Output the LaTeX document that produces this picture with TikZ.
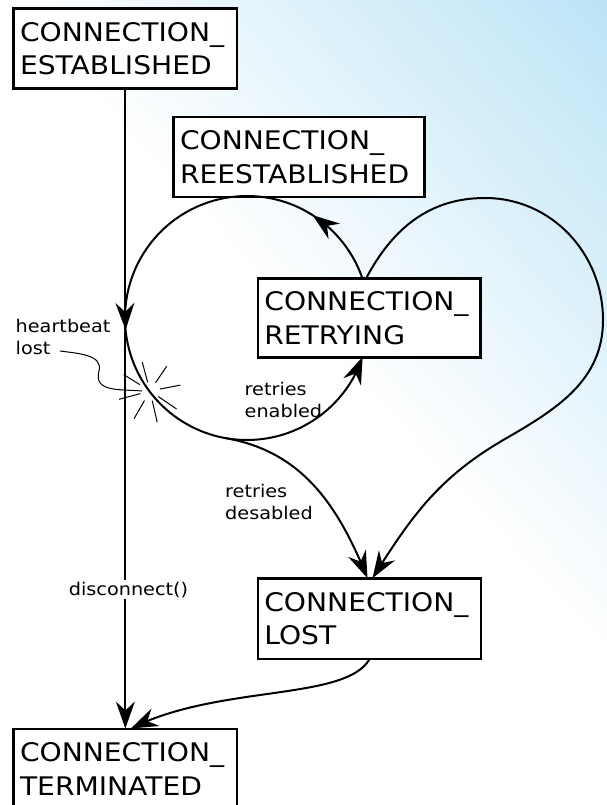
\documentclass[tikz,border=0pt]{standalone}
\usepackage{fontspec}
\newfontfamily\dv[FakeStretch=1.1]{DejaVu Sans}
\usetikzlibrary{arrows.meta,bending}
\definecolor{bgblue}{RGB}{188,228,246}
\begin{document}
\begin{tikzpicture}[x=1pt,y=1pt,
  box/.style={draw,line width=1.7pt,fill=white,rectangle,align=left,inner xsep=6pt,inner ysep=0pt,font=\dv\fontsize{25.6}{33.4}\selectfont},
  lbl/.style={font=\dv\fontsize{17.5}{22}\selectfont,align=left,inner sep=0pt},
  conn/.style={line width=2pt,-{Stealth[length=27pt,width=19pt,inset=9pt,flex]}},
  burst/.style={line width=1pt}]
\useasboundingbox (0,0) rectangle (607,-805);
% background gradient
\begin{scope}
\clip (0,0) rectangle (607,-805);
\fill[white] (0,0) rectangle (607,-805);
\begin{scope}[rotate=42.7]
\foreach \i in {0,...,59}{
  \pgfmathsetmacro\pc{100/59*\i}
  \pgfmathsetmacro\xa{7.43333*\i}
  \pgfmathsetmacro\xb{7.43333*\i+8.3}
  \fill[bgblue!\pc!white] (\xa,-1200) rectangle (\xb,1200);
}
\fill[bgblue] (446,-1200) rectangle (1000,1200);
\end{scope}
\end{scope}
% boxes
\node[box,minimum width=222.7pt,minimum height=79.3pt,text width=210.7pt] (est) at (125.35,-48.7) {CONNECTION\_\\ESTABLISHED};
\node[box,minimum width=250pt,minimum height=78.7pt,text width=238pt] (reest) at (299,-157) {CONNECTION\_\\REESTABLISHED};
\node[box,minimum width=221.7pt,minimum height=78pt,text width=209.7pt] (retry) at (369.2,-318) {CONNECTION\_\\RETRYING};
\node[box,minimum width=222.4pt,minimum height=79.3pt,text width=210.4pt] (lost) at (369.5,-618.7) {CONNECTION\_\\LOST};
\node[box,minimum width=222.7pt,minimum height=79.3pt,text width=210.7pt] (term) at (125.35,-769) {CONNECTION\_\\TERMINATED};
% loop centre and burst centre
\coordinate (lc) at (247,-318);
\coordinate (bc) at (150,-391);
\coordinate (hbs) at (60,-351);
% connectors
\draw[conn] (est.south) -- (term.north);
\draw[conn] ([shift={(18.6:122)}]lc) arc[start angle=18.6,end angle=57.5,radius=122];
\draw[conn] ([shift={(56:122)}]lc) arc[start angle=56,end angle=185.6,radius=122];
\draw[conn] ([shift={(183:122)}]lc) arc[start angle=183,end angle=341.4,radius=122];
\draw[conn] ([xshift=-3pt]retry.north) to[out=62,in=180] (485,-198) to[out=0,in=90] (603,-320) to[out=-90,in=30] (505,-439) to[out=210,in=58] ([xshift=3pt]lost.north);
\draw[conn] ([shift={(260:122)}]lc) to[out=-10,in=112] ([xshift=-2pt]lost.north);
\draw[conn] (lost.south) to[out=240,in=27,out looseness=0.5,in looseness=1.0] ([xshift=5.5pt]term.north);
% redraw box borders on top
\foreach \n in {est,reest,retry,lost,term}{\draw[line width=1.7pt] (\n.north west) rectangle (\n.south east);}
% heartbeat pointer and burst
\draw[line width=1pt] (hbs) to[out=-8,in=75] (99,-371) to[out=255,in=175,looseness=1.2] ([xshift=-8pt]bc);
\foreach \a/\ri/\ro in {148/12/31,105/9/30,56/10/30,11/10/31,-34/10/32,-77/10/32,-120/11/32,195/10/32}
  \draw[burst] ([shift={(\a:\ri)}]bc) -- ([shift={(\a:\ro)}]bc);
% labels (base = last line)
\node[lbl,anchor=base west] (hb) at (15.5,-354.7) {heartbeat\\lost};
\node[lbl,anchor=base west] (re) at (244.5,-417) {retries\\enabled};
\node[lbl,anchor=base west] (rd) at (225,-519.3) {retries\\desabled};
\node[lbl,fill=white,inner sep=2pt,anchor=base] (dc) at (128.5,-595) {disconnect()};
\end{tikzpicture}
\end{document}
